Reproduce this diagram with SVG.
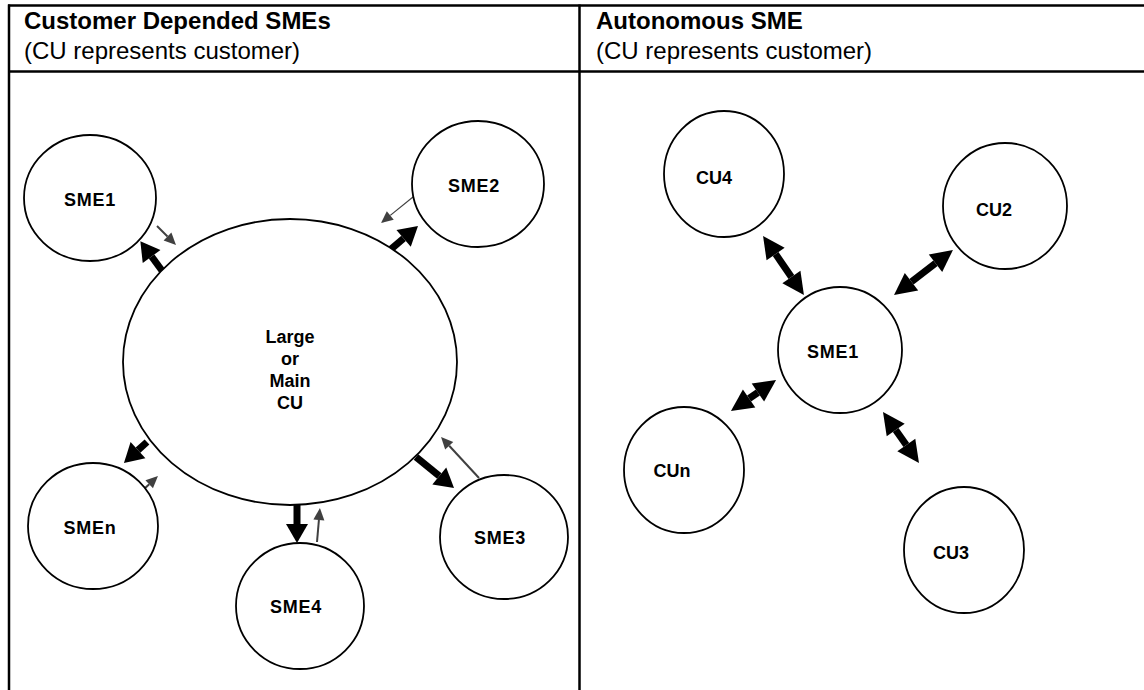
<svg xmlns="http://www.w3.org/2000/svg" width="1144" height="690" viewBox="0 0 1144 690">
<style>
  .frame { stroke: #000; stroke-width: 2.5; fill: none; }
  .hdr { font-family: "Liberation Sans", Arial, sans-serif; font-size: 24px; fill: #000; }
  .hdr-b { font-weight: bold; }
  .node { fill: #fff; stroke: #000; stroke-width: 1.8; }
  .lbl { font-family: "Liberation Sans", Arial, sans-serif; font-size: 18px; font-weight: bold; fill: #000; text-anchor: middle; }
  .sme { letter-spacing: 0.8px; }
  .thick { stroke: #000; stroke-width: 7; fill: none; marker-end: url(#hBlack); }
  .thin { stroke: #404040; stroke-width: 2; fill: none; marker-end: url(#hGray); }
  .dbl { stroke: #000; stroke-width: 7; fill: none; marker-start: url(#hDbl); marker-end: url(#hDbl); }
</style>
<defs>
  <marker id="hBlack" markerUnits="userSpaceOnUse" markerWidth="22" markerHeight="24" refX="0" refY="12" orient="auto" overflow="visible">
    <path d="M0,1 L19,12 L0,23 z" fill="#000"/>
  </marker>
  <marker id="hGray" markerUnits="userSpaceOnUse" markerWidth="14" markerHeight="12" refX="0" refY="6" orient="auto" overflow="visible">
    <path d="M0,0.5 L12,6 L0,11.5 z" fill="#404040"/>
  </marker>
  <marker id="hDbl" markerUnits="userSpaceOnUse" markerWidth="24" markerHeight="24" refX="0" refY="12" orient="auto-start-reverse" overflow="visible">
    <path d="M0,1 L22,12 L0,23 z" fill="#000"/>
  </marker>
</defs>
<rect width="1144" height="690" fill="#fff"/>
<g id="table">
  <line class="frame" x1="8" y1="5.5" x2="1144" y2="5.5"/>
  <line class="frame" x1="9" y1="4.5" x2="9" y2="690"/>
  <line class="frame" x1="579.5" y1="4.5" x2="579.5" y2="690"/>
  <line class="frame" x1="8" y1="71.5" x2="1144" y2="71.5"/>
  <text class="hdr hdr-b" x="24" y="29">Customer Depended SMEs</text>
  <text class="hdr" x="24" y="59">(CU represents customer)</text>
  <text class="hdr hdr-b" x="596" y="29">Autonomous SME</text>
  <text class="hdr" x="596" y="59">(CU represents customer)</text>
</g>
<g id="connectors">
  <line class="thick" x1="163" y1="272" x2="151.6" y2="256.5"/>
  <line class="thin" x1="157" y1="226" x2="167.5" y2="236.5"/>
  <line class="thick" x1="390" y1="250" x2="403.6" y2="238.3"/>
  <line class="thin" x1="413" y1="197" x2="390.3" y2="215.4" style="stroke-width:1.2"/>
  <line class="thick" x1="147" y1="442" x2="138" y2="450.2"/>
  <line class="thin" x1="143" y1="490" x2="149.2" y2="484.2"/>
  <line class="thick" x1="297" y1="503" x2="297" y2="524"/>
  <line class="thin" x1="317" y1="542" x2="318.9" y2="520"/>
  <line class="thick" x1="416" y1="457" x2="439.3" y2="476"/>
  <line class="thin" x1="479" y1="478" x2="449.2" y2="445.8"/>
  <line class="dbl" x1="775.6" y1="254.1" x2="791.4" y2="276.9"/>
  <line class="dbl" x1="911.5" y1="281.7" x2="935.5" y2="263.3"/>
  <line class="dbl" x1="749.1" y1="398.5" x2="757.9" y2="392.5"/>
  <line class="dbl" x1="895.7" y1="430" x2="906.3" y2="445"/>
</g>
<g id="main-cu">
  <ellipse class="node" cx="290" cy="362" rx="167" ry="143"/>
  <text class="lbl" x="290" y="343">Large</text>
  <text class="lbl" x="290" y="365">or</text>
  <text class="lbl" x="290" y="387">Main</text>
  <text class="lbl" x="290" y="409">CU</text>
</g>
<g id="sme1-left"><ellipse class="node" cx="90" cy="198" rx="66" ry="63"/><text class="lbl sme" x="90" y="206">SME1</text></g>
<g id="sme2"><ellipse class="node" cx="478" cy="184" rx="66" ry="63"/><text class="lbl sme" x="474" y="192">SME2</text></g>
<g id="smen"><ellipse class="node" cx="93" cy="526" rx="65" ry="63"/><text class="lbl sme" x="90" y="534">SMEn</text></g>
<g id="sme4"><ellipse class="node" cx="300" cy="606" rx="64" ry="63"/><text class="lbl sme" x="296" y="613">SME4</text></g>
<g id="sme3"><ellipse class="node" cx="504" cy="537" rx="64" ry="62"/><text class="lbl sme" x="500" y="544">SME3</text></g>
<g id="cu4"><ellipse class="node" cx="724" cy="174" rx="60" ry="63"/><text class="lbl" x="714" y="184">CU4</text></g>
<g id="cu2"><ellipse class="node" cx="1005" cy="206" rx="62" ry="63"/><text class="lbl" x="994" y="216">CU2</text></g>
<g id="sme1-right"><ellipse class="node" cx="840" cy="350" rx="62" ry="63"/><text class="lbl sme" x="833" y="358">SME1</text></g>
<g id="cun"><ellipse class="node" cx="684" cy="470" rx="60" ry="63"/><text class="lbl" x="672" y="477">CUn</text></g>
<g id="cu3"><ellipse class="node" cx="964" cy="550" rx="60" ry="63"/><text class="lbl" x="951" y="559">CU3</text></g>
</svg>
